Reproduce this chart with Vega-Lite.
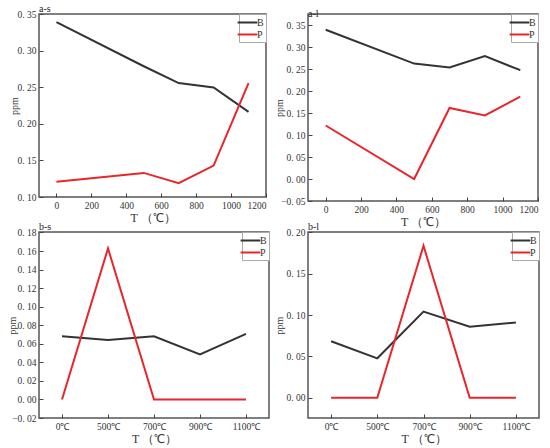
{
  "$schema": "https://vega.github.io/schema/vega-lite/v6.json",
  "padding": {"left": 6, "top": 3, "right": 5, "bottom": 5},
  "background": "white",
  "config": {
    "font": "Liberation Serif",
    "view": {"stroke": "#555", "strokeWidth": 1.5},
    "axis": {
      "grid": false,
      "domain": false,
      "tickSize": -4,
      "tickColor": "#444",
      "labelPadding": 7,
      "labelFont": "Liberation Serif",
      "labelFontSize": 9.5,
      "labelColor": "#333",
      "titleFont": "Liberation Serif",
      "titleFontWeight": "normal",
      "titleColor": "#333"
    },
    "axisX": {"titleFontSize": 12, "titlePadding": 3, "labelAngle": 0},
    "axisY": {"titleFontSize": 10},
    "legend": {
      "orient": "top-right",
      "offset": 0,
      "padding": 2,
      "rowPadding": 0,
      "labelOffset": 3,
      "fillColor": "white",
      "strokeColor": "#aaa",
      "symbolType": "M-1.8,0H1.8",
      "symbolSize": 121,
      "symbolStrokeWidth": 2.5,
      "labelFont": "Liberation Serif",
      "labelFontSize": 10,
      "labelColor": "#333",
      "title": null
    },
    "title": {
      "anchor": "start",
      "frame": "group",
      "font": "Liberation Serif",
      "fontSize": 10,
      "fontWeight": "normal",
      "color": "#222",
      "offset": -5
    },
    "line": {"strokeWidth": 2}
  },
  "bounds": "flush",
  "columns": 2,
  "spacing": {"row": 31, "column": 39},
  "resolve": {"scale": {"color": "independent", "x": "independent", "y": "independent"}, "legend": {"color": "independent"}},
  "concat": [
    {
      "title": "a-s",
      "width": 227,
      "height": 183,
      "data": {"values": [
        {"T": 0, "ppm": 0.3395, "elem": "B"},
        {"T": 500, "ppm": 0.279, "elem": "B"},
        {"T": 700, "ppm": 0.256, "elem": "B"},
        {"T": 900, "ppm": 0.250, "elem": "B"},
        {"T": 1100, "ppm": 0.2165, "elem": "B"},
        {"T": 0, "ppm": 0.121, "elem": "P"},
        {"T": 500, "ppm": 0.133, "elem": "P"},
        {"T": 700, "ppm": 0.119, "elem": "P"},
        {"T": 900, "ppm": 0.143, "elem": "P"},
        {"T": 1100, "ppm": 0.256, "elem": "P"}
      ]},
      "mark": "line",
      "encoding": {
        "x": {"field": "T", "type": "quantitative", "title": "T （℃）",
          "scale": {"domain": [-100, 1200], "nice": false},
          "axis": {"values": [0, 200, 400, 600, 800, 1000, 1200], "format": "d"}},
        "y": {"field": "ppm", "type": "quantitative", "title": "ppm",
          "scale": {"domain": [0.1, 0.3505], "nice": false, "zero": false},
          "axis": {"values": [0.1, 0.15, 0.2, 0.25, 0.3, 0.35], "titleX": -20,
            "labelExpr": "replace(format(datum.value, '.2f'), '.', '. ')"}},
        "color": {"field": "elem", "type": "nominal",
          "scale": {"domain": ["B", "P"], "range": ["#333333", "#e8252b"]}}
      }
    },
    {
      "title": "a-l",
      "width": 230,
      "height": 187,
      "data": {"values": [
        {"T": 0, "ppm": 0.340, "elem": "B"},
        {"T": 500, "ppm": 0.263, "elem": "B"},
        {"T": 700, "ppm": 0.254, "elem": "B"},
        {"T": 900, "ppm": 0.280, "elem": "B"},
        {"T": 1100, "ppm": 0.248, "elem": "B"},
        {"T": 0, "ppm": 0.122, "elem": "P"},
        {"T": 500, "ppm": 0.0, "elem": "P"},
        {"T": 700, "ppm": 0.162, "elem": "P"},
        {"T": 900, "ppm": 0.145, "elem": "P"},
        {"T": 1100, "ppm": 0.188, "elem": "P"}
      ]},
      "mark": "line",
      "encoding": {
        "x": {"field": "T", "type": "quantitative", "title": "T （℃）",
          "scale": {"domain": [-100, 1200], "nice": false},
          "axis": {"values": [0, 200, 400, 600, 800, 1000, 1200], "format": "d"}},
        "y": {"field": "ppm", "type": "quantitative", "title": "ppm",
          "scale": {"domain": [-0.05, 0.376], "nice": false, "zero": false},
          "axis": {"values": [-0.05, 0, 0.05, 0.1, 0.15, 0.2, 0.25, 0.3, 0.35], "titleX": -24,
            "labelExpr": "replace(format(datum.value, '.2f'), '.', '. ')"}},
        "color": {"field": "elem", "type": "nominal",
          "scale": {"domain": ["B", "P"], "range": ["#333333", "#e8252b"]}}
      }
    },
    {
      "title": "b-s",
      "width": 230,
      "height": 186,
      "data": {"values": [
        {"T": "0℃", "ppm": 0.0682, "elem": "B"},
        {"T": "500℃", "ppm": 0.0642, "elem": "B"},
        {"T": "700℃", "ppm": 0.068, "elem": "B"},
        {"T": "900℃", "ppm": 0.0485, "elem": "B"},
        {"T": "1100℃", "ppm": 0.0707, "elem": "B"},
        {"T": "0℃", "ppm": 0.0, "elem": "P"},
        {"T": "500℃", "ppm": 0.1628, "elem": "P"},
        {"T": "700℃", "ppm": 0.0, "elem": "P"},
        {"T": "900℃", "ppm": 0.0, "elem": "P"},
        {"T": "1100℃", "ppm": 0.0, "elem": "P"}
      ]},
      "mark": "line",
      "encoding": {
        "x": {"field": "T", "type": "ordinal", "title": "T （℃）",
          "sort": ["0℃", "500℃", "700℃", "900℃", "1100℃"],
          "scale": {"type": "point", "padding": 0.5}},
        "y": {"field": "ppm", "type": "quantitative", "title": "ppm",
          "scale": {"domain": [-0.02, 0.1805], "nice": false, "zero": false},
          "axis": {"values": [-0.02, 0, 0.02, 0.04, 0.06, 0.08, 0.1, 0.12, 0.14, 0.16, 0.18], "titleX": -22,
            "labelExpr": "replace(format(datum.value, '.2f'), '.', '. ')"}},
        "color": {"field": "elem", "type": "nominal",
          "scale": {"domain": ["B", "P"], "range": ["#333333", "#e8252b"]}}
      }
    },
    {
      "title": "b-l",
      "width": 231,
      "height": 186,
      "data": {"values": [
        {"T": "0℃", "ppm": 0.0683, "elem": "B"},
        {"T": "500℃", "ppm": 0.0477, "elem": "B"},
        {"T": "700℃", "ppm": 0.1042, "elem": "B"},
        {"T": "900℃", "ppm": 0.086, "elem": "B"},
        {"T": "1100℃", "ppm": 0.0909, "elem": "B"},
        {"T": "0℃", "ppm": 0.0, "elem": "P"},
        {"T": "500℃", "ppm": 0.0, "elem": "P"},
        {"T": "700℃", "ppm": 0.1838, "elem": "P"},
        {"T": "900℃", "ppm": 0.0, "elem": "P"},
        {"T": "1100℃", "ppm": 0.0, "elem": "P"}
      ]},
      "mark": "line",
      "encoding": {
        "x": {"field": "T", "type": "ordinal", "title": "T （℃）",
          "sort": ["0℃", "500℃", "700℃", "900℃", "1100℃"],
          "scale": {"type": "point", "padding": 0.5}},
        "y": {"field": "ppm", "type": "quantitative", "title": "ppm",
          "scale": {"domain": [-0.0245, 0.2005], "nice": false, "zero": false},
          "axis": {"values": [0, 0.05, 0.1, 0.15, 0.2], "titleX": -24,
            "labelExpr": "replace(format(datum.value, '.2f'), '.', '. ')"}},
        "color": {"field": "elem", "type": "nominal",
          "scale": {"domain": ["B", "P"], "range": ["#333333", "#e8252b"]}}
      }
    }
  ]
}
